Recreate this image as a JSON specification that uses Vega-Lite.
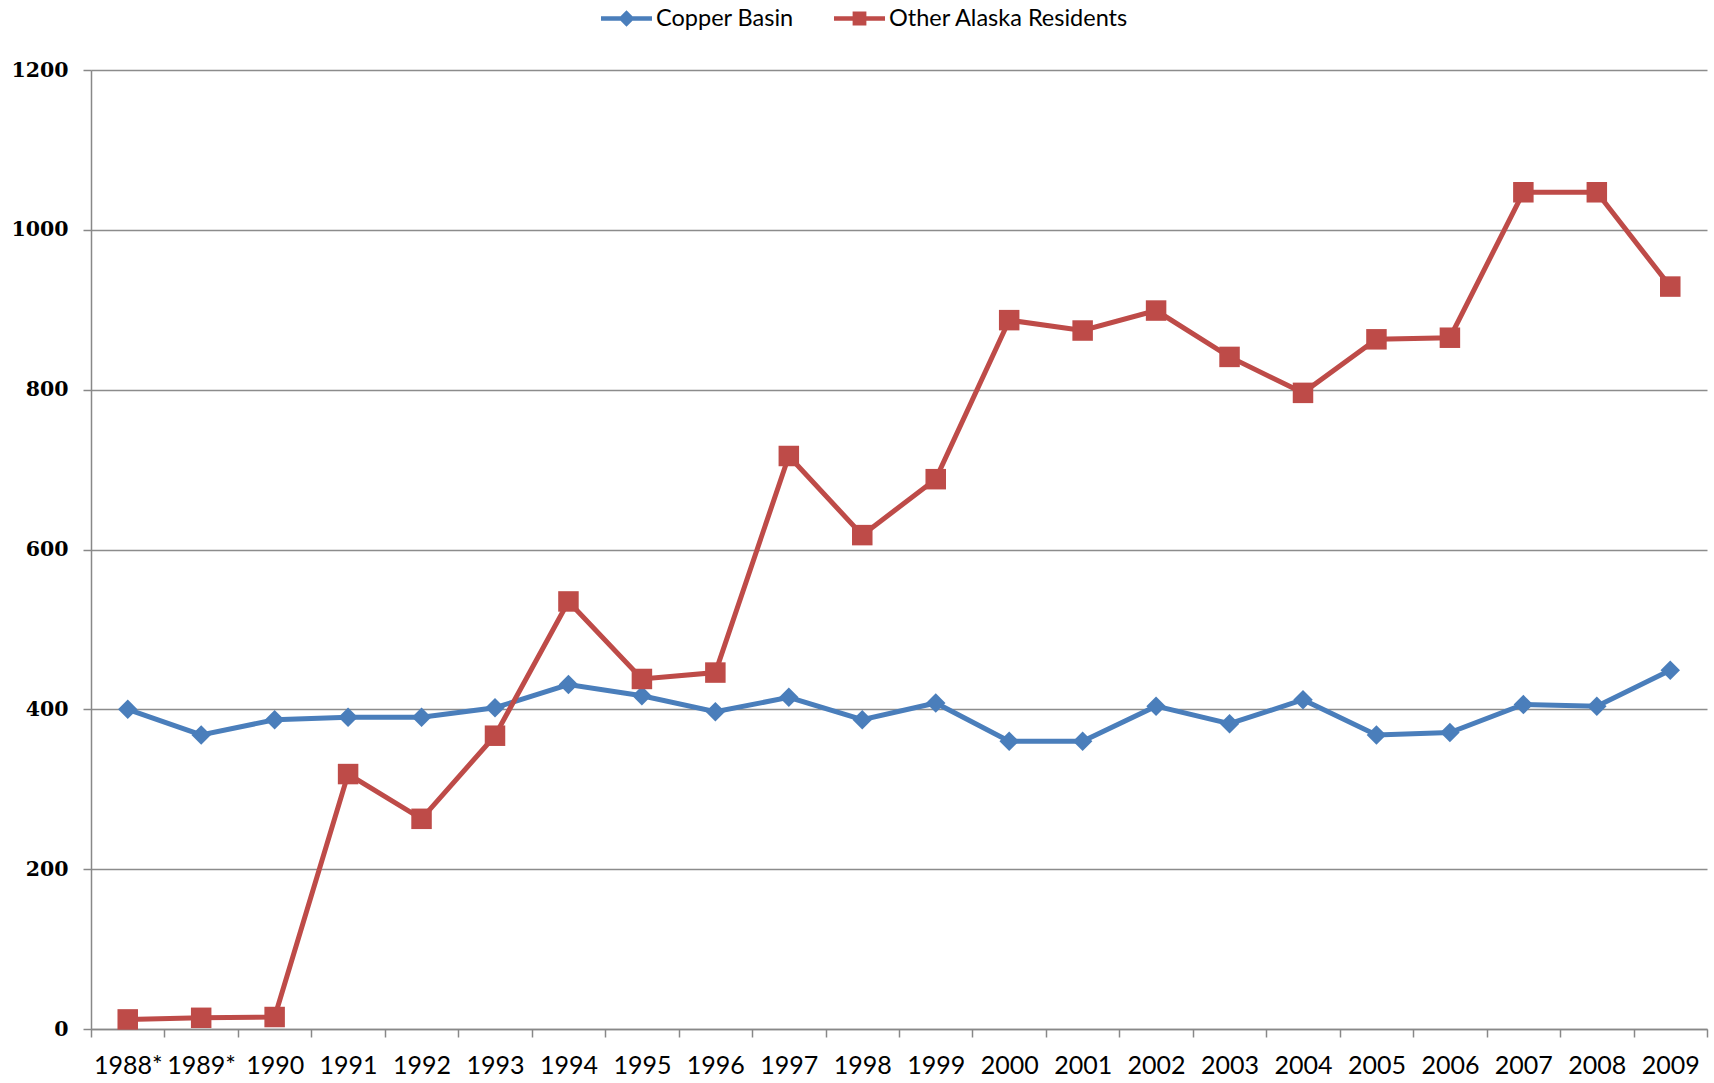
{
  "$schema": "https://vega.github.io/schema/vega-lite/v6.json",
  "width": 1616,
  "height": 959,
  "autosize": "none",
  "padding": {"left": 91, "top": 70, "right": 7, "bottom": 54},
  "background": "white",
  "config": {"view": {"stroke": null}},
  "data": {
    "values": [
      {"year": "1988*", "series": "Copper Basin", "value": 400},
      {"year": "1989*", "series": "Copper Basin", "value": 368},
      {"year": "1990", "series": "Copper Basin", "value": 387},
      {"year": "1991", "series": "Copper Basin", "value": 390},
      {"year": "1992", "series": "Copper Basin", "value": 390},
      {"year": "1993", "series": "Copper Basin", "value": 402},
      {"year": "1994", "series": "Copper Basin", "value": 431},
      {"year": "1995", "series": "Copper Basin", "value": 417},
      {"year": "1996", "series": "Copper Basin", "value": 397},
      {"year": "1997", "series": "Copper Basin", "value": 415},
      {"year": "1998", "series": "Copper Basin", "value": 387},
      {"year": "1999", "series": "Copper Basin", "value": 408},
      {"year": "2000", "series": "Copper Basin", "value": 360},
      {"year": "2001", "series": "Copper Basin", "value": 360},
      {"year": "2002", "series": "Copper Basin", "value": 404},
      {"year": "2003", "series": "Copper Basin", "value": 382},
      {"year": "2004", "series": "Copper Basin", "value": 412},
      {"year": "2005", "series": "Copper Basin", "value": 368},
      {"year": "2006", "series": "Copper Basin", "value": 371},
      {"year": "2007", "series": "Copper Basin", "value": 406},
      {"year": "2008", "series": "Copper Basin", "value": 404},
      {"year": "2009", "series": "Copper Basin", "value": 449},
      {"year": "1988*", "series": "Other Alaska Residents", "value": 12},
      {"year": "1989*", "series": "Other Alaska Residents", "value": 14},
      {"year": "1990", "series": "Other Alaska Residents", "value": 15},
      {"year": "1991", "series": "Other Alaska Residents", "value": 319},
      {"year": "1992", "series": "Other Alaska Residents", "value": 263},
      {"year": "1993", "series": "Other Alaska Residents", "value": 367},
      {"year": "1994", "series": "Other Alaska Residents", "value": 535},
      {"year": "1995", "series": "Other Alaska Residents", "value": 438},
      {"year": "1996", "series": "Other Alaska Residents", "value": 446},
      {"year": "1997", "series": "Other Alaska Residents", "value": 717},
      {"year": "1998", "series": "Other Alaska Residents", "value": 618},
      {"year": "1999", "series": "Other Alaska Residents", "value": 688},
      {"year": "2000", "series": "Other Alaska Residents", "value": 887},
      {"year": "2001", "series": "Other Alaska Residents", "value": 874},
      {"year": "2002", "series": "Other Alaska Residents", "value": 899},
      {"year": "2003", "series": "Other Alaska Residents", "value": 841},
      {"year": "2004", "series": "Other Alaska Residents", "value": 796},
      {"year": "2005", "series": "Other Alaska Residents", "value": 863},
      {"year": "2006", "series": "Other Alaska Residents", "value": 865},
      {"year": "2007", "series": "Other Alaska Residents", "value": 1047},
      {"year": "2008", "series": "Other Alaska Residents", "value": 1047},
      {"year": "2009", "series": "Other Alaska Residents", "value": 929}
    ]
  },
  "encoding": {
    "x": {
      "field": "year",
      "type": "ordinal",
      "sort": null,
      "title": null,
      "scale": {"type": "band", "paddingInner": 0, "paddingOuter": 0},
      "axis": {
        "labelAngle": 0,
        "labelFont": "Lato",
        "labelFontSize": 25,
        "labelColor": "black",
        "labelPadding": 16,
        "labelOverlap": false,
        "labelBound": false,
        "tickBand": "extent",
        "tickSize": 8,
        "tickColor": "#888888",
        "tickWidth": 1.5,
        "domainColor": "#888888",
        "domainWidth": 1.5,
        "grid": false
      }
    },
    "y": {
      "field": "value",
      "type": "quantitative",
      "title": null,
      "scale": {"domain": [0, 1200], "nice": false},
      "axis": {
        "values": [0, 200, 400, 600, 800, 1000, 1200],
        "format": "d",
        "labelFont": "DejaVu Serif",
        "labelFontWeight": "bold",
        "labelFontSize": 20.5,
        "labelColor": "black",
        "labelPadding": 15,
        "tickSize": 8,
        "tickColor": "#888888",
        "tickWidth": 1.5,
        "domainColor": "#888888",
        "domainWidth": 1.5,
        "grid": true,
        "gridColor": "#8c8c8c",
        "gridWidth": 1.5
      }
    },
    "color": {
      "field": "series",
      "type": "nominal",
      "scale": {"domain": ["Copper Basin", "Other Alaska Residents"], "range": ["#4A7EBB", "#BE4B48"]},
      "legend": {
        "title": null,
        "orient": "none",
        "direction": "horizontal",
        "legendX": 510,
        "legendY": -77,
        "symbolSize": 2601,
        "labelFont": "Lato",
        "labelFontSize": 23.5,
        "labelColor": "black",
        "labelOffset": 4,
        "labelLimit": 0,
        "columnPadding": 40,
        "encode": {
          "symbols": {
            "update": {
              "shape": {"signal": "datum.value === 'Copper Basin' ? 'M-1,-0.09H1V0.09H-1Z M-0.32,0L0,-0.32L0.32,0L0,0.32Z' : 'M-1,-0.09H1V0.09H-1Z M-0.27,-0.27H0.27V0.27H-0.27Z'"},
              "fill": {"signal": "datum.value === 'Copper Basin' ? '#4A7EBB' : '#BE4B48'"},
              "fillOpacity": {"value": 1},
              "opacity": {"value": 1},
              "stroke": {"value": "transparent"},
              "strokeWidth": {"value": 0},
              "size": {"value": 2601}
            }
          }
        }
      }
    }
  },
  "layer": [
    {
      "mark": {"type": "line", "strokeWidth": 5},
      "encoding": {}
    },
    {
      "transform": [{"filter": "datum.series === 'Copper Basin'"}],
      "mark": {"type": "point", "filled": true, "opacity": 1, "shape": "diamond", "size": 380},
      "encoding": {}
    },
    {
      "transform": [{"filter": "datum.series === 'Other Alaska Residents'"}],
      "mark": {"type": "point", "filled": true, "opacity": 1, "shape": "square", "size": 420},
      "encoding": {}
    }
  ]
}
